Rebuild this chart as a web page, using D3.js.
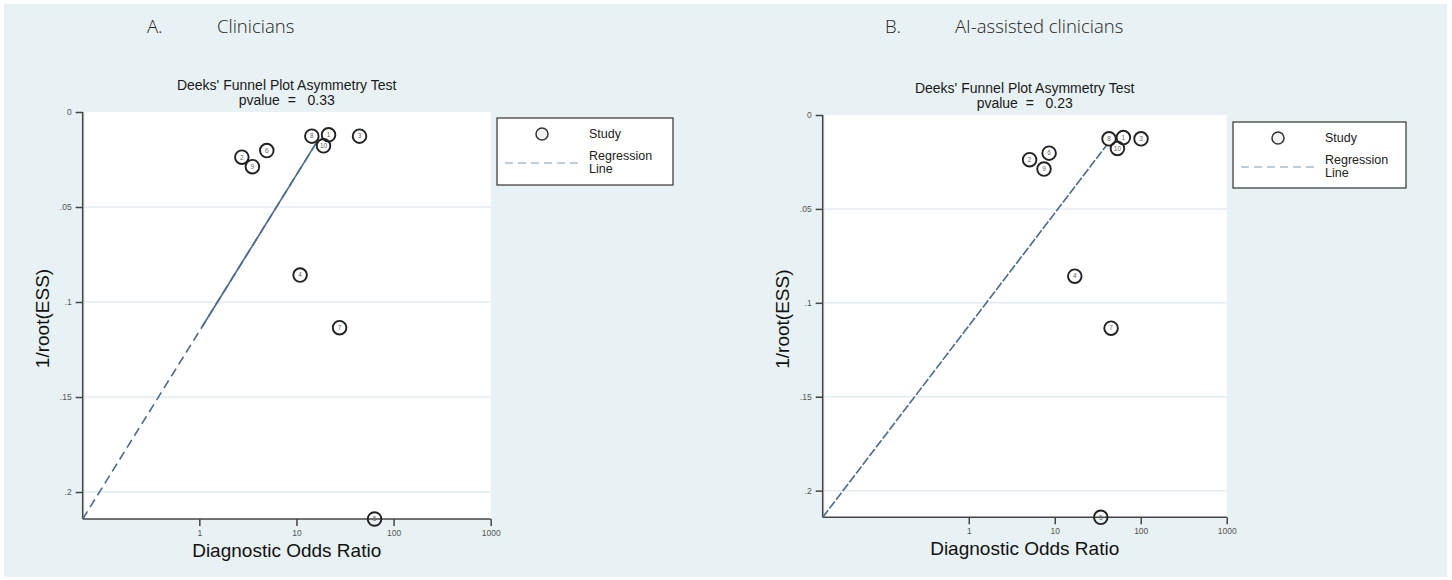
<!DOCTYPE html>
<html>
<head>
<meta charset="utf-8">
<script src="https://cdn.jsdelivr.net/npm/d3@7"></script>
<style>
  body { margin: 0; background: #ffffff; }
  text { font-family: "Liberation Sans", Arial, sans-serif; }
</style>
</head>
<body>
<script>
// Study ids and 1/root(ESS) (same for both panels)
const studyIds = [1, 2, 3, 4, 5, 6, 7, 8, 9, 10];
const invRootEss = [0.0120, 0.0238, 0.0127, 0.0858, 0.2142, 0.0203, 0.1135, 0.0127, 0.0288, 0.0178];

// Diagnostic odds ratios
const dorClinicians = [21.4, 2.74, 44.6, 10.9, 63.7, 4.95, 27.8, 14.4, 3.52, 19.0];
const dorAssisted = [62.8, 5.1, 100.8, 17.1, 34.3, 8.6, 45.2, 42.8, 7.5, 53.6];

// Regression line end points [DOR, 1/root(ESS)]
const regClinicians = [[0.063, 0.2142], [16.3, 0.0156]];
const regAssisted = [[0.02, 0.2142], [40.2, 0.016]];

const pvalues = ["0.33", "0.23"];
const panelLabels = ["A.", "B."];
const panelNames = ["Clinicians", "AI-assisted clinicians"];
const yTicks = [0, 0.05, 0.1, 0.15, 0.2];
const yTickLabels = ["0", ".05", ".1", ".15", ".2"];
const xTicks = [1, 10, 100, 1000];

var width = 1452, height = 580;

var svg = d3.select("body").append("svg")
    .attr("width", width)
    .attr("height", height);

// page background
svg.append("rect")
    .attr("x", 4).attr("y", 4)
    .attr("width", 1443).attr("height", 573)
    .attr("fill", "#e8f1f3");

// layout of each panel (plot frame in pixels)
var panels = [
    { left: 82.7, right: 490.7, top: 112, bottom: 519, xMin: 0.063,
      dor: dorClinicians, reg: regClinicians, solidFrom: 0.113,
      legend: { x: 497, y: 118, w: 176, h: 67 }, head: 147 },
    { left: 822.7, right: 1226.7, top: 115, bottom: 517.3, xMin: 0.02,
      dor: dorAssisted, reg: regAssisted, solidFrom: null,
      legend: { x: 1233, y: 122, w: 173, h: 66 }, head: 885 }
];

panels.forEach(function (p, i) {
    var g = svg.append("g");

    var x = d3.scaleLog().domain([p.xMin, 1000]).range([p.left, p.right]);
    var y = d3.scaleLinear().domain([0, 0.2142]).range([p.top, p.bottom]);

    // panel heading
    g.append("text").attr("x", p.head).attr("y", 33)
        .style("font-family", "'Open Sans', sans-serif").style("font-weight", 300)
        .style("font-size", "18.5px").attr("fill", "#222").text(panelLabels[i]);
    g.append("text").attr("x", p.head + 70).attr("y", 33)
        .style("font-family", "'Open Sans', sans-serif").style("font-weight", 300)
        .style("font-size", "18.5px").attr("fill", "#222").text(panelNames[i]);

    // chart title
    var cx = (p.left + p.right) / 2;
    g.append("text").attr("x", cx).attr("y", p.top - 22)
        .attr("text-anchor", "middle").style("font-size", "14px").attr("fill", "#1a1a1a")
        .text("Deeks' Funnel Plot Asymmetry Test");
    g.append("text").attr("x", cx).attr("y", p.top - 7)
        .attr("text-anchor", "middle").style("font-size", "14px").attr("fill", "#1a1a1a")
        .style("white-space", "pre").attr("xml:space", "preserve")
        .text("pvalue  =   " + pvalues[i]);

    // white plot area
    g.append("rect")
        .attr("x", p.left + 2).attr("y", p.top)
        .attr("width", p.right - p.left - 2).attr("height", p.bottom - p.top)
        .attr("fill", "#ffffff");

    // gridlines
    g.selectAll(".grid").data(yTicks.slice(1)).enter().append("line")
        .attr("x1", p.left).attr("x2", p.right)
        .attr("y1", d => y(d)).attr("y2", d => y(d))
        .attr("stroke", "#e2edf1").attr("stroke-width", 1.5);

    // y axis
    var yAxis = d3.axisLeft(y).tickValues(yTicks)
        .tickFormat((d, k) => yTickLabels[k]).tickSize(7).tickPadding(4);
    var ya = g.append("g").attr("transform", "translate(" + p.left + ",0)").call(yAxis);
    ya.select(".domain").attr("stroke", "#444").attr("stroke-width", 1.5).attr("d", "M0," + p.top + "V" + p.bottom);
    ya.selectAll(".tick line").attr("stroke", "#444").attr("stroke-width", 1.5);
    ya.selectAll(".tick text").style("font-size", "8.5px").attr("fill", "#555");

    // x axis
    var xAxis = d3.axisBottom(x).tickValues(xTicks).tickFormat(d3.format("d")).tickSize(7).tickPadding(4);
    var xa = g.append("g").attr("transform", "translate(0," + p.bottom + ")").call(xAxis);
    xa.select(".domain").attr("stroke", "#444").attr("stroke-width", 1.5).attr("d", "M" + p.left + ",0H" + p.right);
    xa.selectAll(".tick line").attr("stroke", "#444").attr("stroke-width", 1.5);
    xa.selectAll(".tick text").style("font-size", "8.5px").attr("fill", "#555");

    // axis titles
    g.append("text").attr("x", cx).attr("y", p.bottom + 38)
        .attr("text-anchor", "middle").style("font-size", "19px").attr("fill", "#111")
        .text("Diagnostic Odds Ratio");
    g.append("text")
        .attr("transform", "translate(" + (p.left - 34) + "," + ((p.top + p.bottom) / 2 + 3) + ") rotate(-90)")
        .attr("text-anchor", "middle").style("font-size", "19px").attr("fill", "#111")
        .text("1/root(ESS)");

    // regression line
    var line = d3.line().x(d => x(d[0])).y(d => y(d[1]));
    g.append("path").datum(p.reg).attr("d", line)
        .attr("fill", "none").attr("stroke", "#4b6b8e").attr("stroke-width", 1.6)
        .attr("stroke-dasharray", p.solidFrom == null ? "9,2" : "9,5");
    if (p.solidFrom != null) {
        // upper part of the line reads as solid
        var t = (p.reg[0][1] - p.solidFrom) / (p.reg[0][1] - p.reg[1][1]);
        var lx = Math.log10(p.reg[0][0]) + t * (Math.log10(p.reg[1][0]) - Math.log10(p.reg[0][0]));
        g.append("path").datum([[Math.pow(10, lx), p.solidFrom], p.reg[1]]).attr("d", line)
            .attr("fill", "none").attr("stroke", "#4b6b8e").attr("stroke-width", 1.6);
    }

    // study markers
    var pts = studyIds.map((id, k) => ({ id: id, dor: p.dor[k], e: invRootEss[k] }));
    var m = g.selectAll(".study").data(pts).enter().append("g")
        .attr("transform", d => "translate(" + x(d.dor) + "," + y(d.e) + ")");
    m.append("circle").attr("r", 6.8)
        .attr("fill", "none").attr("stroke", "#222").attr("stroke-width", 1.9);
    m.append("text").attr("text-anchor", "middle").attr("dy", "0.35em")
        .style("font-size", "6.5px").attr("fill", "#666").text(d => d.id);

    // legend
    var L = p.legend;
    var lg = g.append("g").attr("transform", "translate(" + L.x + "," + L.y + ")");
    lg.append("rect").attr("width", L.w).attr("height", L.h)
        .attr("fill", "#ffffff").attr("stroke", "#333").attr("stroke-width", 1.2);
    lg.append("circle").attr("cx", 45).attr("cy", 16).attr("r", 6)
        .attr("fill", "#f2f2f2").attr("stroke", "#333").attr("stroke-width", 1.5);
    lg.append("text").attr("x", 92).attr("y", 20).style("font-size", "12.5px").attr("fill", "#222").text("Study");
    lg.append("line").attr("x1", 8).attr("x2", 82).attr("y1", 45).attr("y2", 45)
        .attr("stroke", "#a9bccb").attr("stroke-width", 1.5).attr("stroke-dasharray", "8,5");
    lg.append("text").attr("x", 92).attr("y", 42).style("font-size", "12.5px").attr("fill", "#222").text("Regression");
    lg.append("text").attr("x", 92).attr("y", 55).style("font-size", "12.5px").attr("fill", "#222").text("Line");
});
</script>
</body>
</html>
